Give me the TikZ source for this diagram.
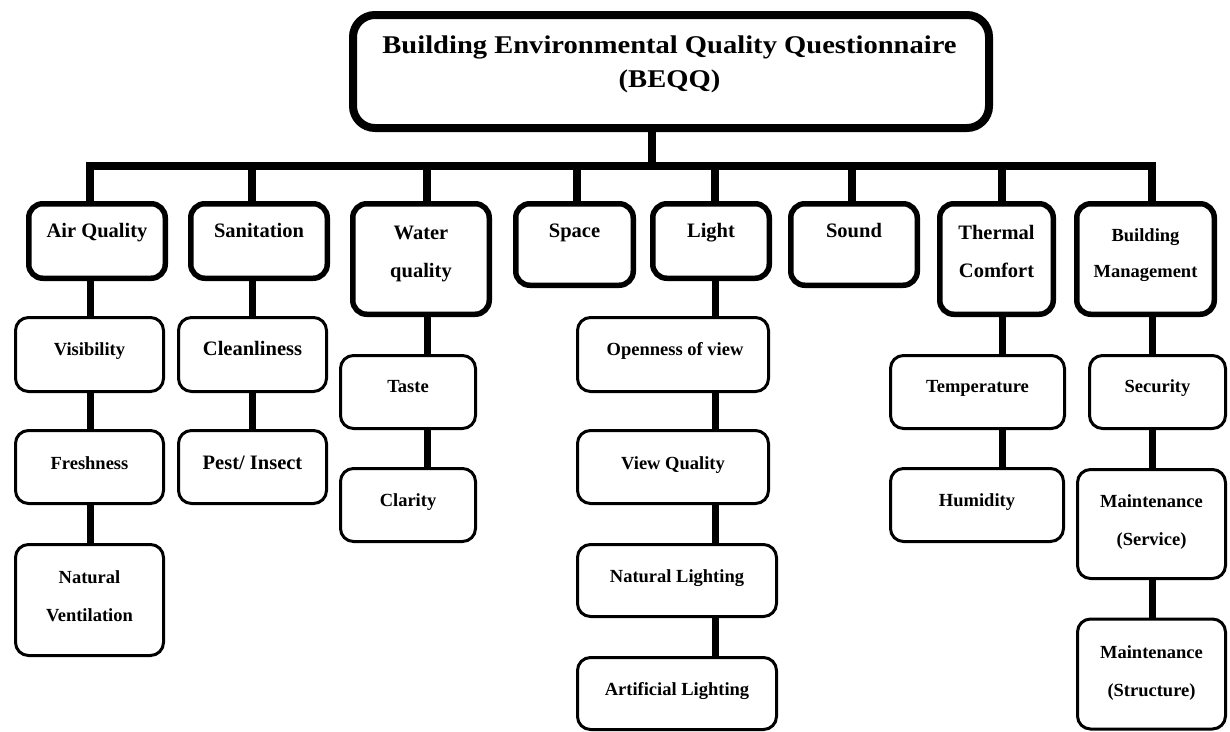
\documentclass[tikz,border=0pt]{standalone}
\usepackage{fontspec}
\setmainfont{Liberation Serif}
\newfontfamily\titlefont{Liberation Serif}[FakeStretch=1.12]

\tikzset{
  mainbox/.style={draw, line width=8pt, rounded corners=22pt, fill=white, inner sep=0pt},
  topbox/.style={draw, line width=5.5pt, rounded corners=14pt, fill=white, inner sep=0pt},
  subbox/.style={draw, line width=3pt, rounded corners=13pt, fill=white, inner sep=0pt},
  link/.style={line width=8pt, line join=miter},
  sublink/.style={line width=7pt},
  toptext/.style={font=\fontsize{20.5}{37.5}\selectfont\bfseries, anchor=base, align=center, inner sep=0pt},
  subtext/.style={font=\fontsize{18.5}{37.5}\selectfont\bfseries, anchor=base, align=center, inner sep=0pt},
}

\begin{document}
\begin{tikzpicture}[x=1pt, y=-1pt]
\useasboundingbox (0,0) rectangle (1230,731);

\node[mainbox, minimum width=636pt, minimum height=113pt] (title) at (671,71.5) {};
\node[font=\titlefont\fontsize{25.5}{34}\selectfont\bfseries, anchor=base, align=center, inner sep=0pt] (title-t) at (669.5,87) {Building Environmental Quality Questionnaire\\(BEQQ)};

\node[topbox, minimum width=136.5pt, minimum height=74.5pt] (aq) at (97,241) {};
\node[topbox, minimum width=136.5pt, minimum height=74.5pt] (san) at (259,241) {};
\node[topbox, minimum width=136.5pt, minimum height=110.5pt] (wq) at (421,259) {};
\node[topbox, minimum width=117.5pt, minimum height=81.5pt] (sp) at (574.5,244.5) {};
\node[topbox, minimum width=116.5pt, minimum height=74.5pt] (li) at (711,241) {};
\node[topbox, minimum width=126.5pt, minimum height=81.5pt] (so) at (854,244.5) {};
\node[topbox, minimum width=113.5pt, minimum height=110.5pt] (th) at (996.5,259) {};
\node[topbox, minimum width=137.5pt, minimum height=110.5pt] (bm) at (1145.5,259) {};

\node[toptext] (aq-t) at (97,237) {Air Quality};
\node[toptext] (san-t) at (259,237) {Sanitation};
\node[toptext] (wq-t) at (421,277) {Water\\quality};
\node[toptext] (sp-t) at (574.5,237) {Space};
\node[toptext] (li-t) at (711,237) {Light};
\node[toptext] (so-t) at (854,237) {Sound};
\node[toptext] (th-t) at (996.5,277) {Thermal\\Comfort};
\node[subtext, font=\fontsize{18.5}{36}\selectfont\bfseries] (bm-t) at (1145.5,277) {Building\\Management};

\node[subbox, minimum width=148pt, minimum height=74pt] (vis) at (89.5,354.5) {};
\node[subbox, minimum width=148pt, minimum height=73pt] (fresh) at (89.5,467) {};
\node[subbox, minimum width=148pt, minimum height=111pt] (natv) at (89.5,600) {};
\node[subbox, minimum width=148pt, minimum height=74pt] (clean) at (252.5,354.5) {};
\node[subbox, minimum width=148pt, minimum height=73pt] (pest) at (252.5,467) {};
\node[subbox, minimum width=135pt, minimum height=73pt] (taste) at (408,392) {};
\node[subbox, minimum width=135pt, minimum height=73pt] (clar) at (408,505) {};
\node[subbox, minimum width=191pt, minimum height=74pt] (open) at (673,354.5) {};
\node[subbox, minimum width=191pt, minimum height=73pt] (viewq) at (673,467) {};
\node[subbox, minimum width=199pt, minimum height=72pt] (natl) at (677,580.5) {};
\node[subbox, minimum width=199pt, minimum height=72pt] (artl) at (677,693.5) {};
\node[subbox, minimum width=174pt, minimum height=73pt] (temp) at (977.5,392) {};
\node[subbox, minimum width=173pt, minimum height=73pt] (humid) at (977,505) {};
\node[subbox, minimum width=136pt, minimum height=73pt] (sec) at (1157.5,392) {};
\node[subbox, minimum width=148pt, minimum height=109pt] (mserv) at (1151.5,524) {};
\node[subbox, minimum width=148pt, minimum height=110pt] (mstruc) at (1151.5,674) {};

\node[subtext] (vis-t) at (89.5,355) {Visibility};
\node[subtext] (fresh-t) at (89.5,469) {Freshness};
\node[subtext] (natv-t) at (89.5,621) {Natural\\Ventilation};
\node[toptext] (clean-t) at (252.5,355) {Cleanliness};
\node[toptext] (pest-t) at (252.5,469) {Pest/ Insect};
\node[subtext] (taste-t) at (408,392) {Taste};
\node[subtext] (clar-t) at (408,506) {Clarity};
\node[subtext] (open-t) at (675,355) {Openness of view};
\node[subtext] (viewq-t) at (673,469) {View Quality};
\node[subtext] (natl-t) at (677,582) {Natural Lighting};
\node[subtext] (artl-t) at (677,695) {Artificial Lighting};
\node[subtext] (temp-t) at (977.5,392) {Temperature};
\node[subtext] (humid-t) at (977,506) {Humidity};
\node[subtext] (sec-t) at (1157.5,392) {Security};
\node[subtext] (mserv-t) at (1151.5,545) {Maintenance\\(Service)};
\node[subtext] (mstruc-t) at (1151.5,696) {Maintenance\\(Structure)};

\coordinate (hub) at (652,166);
\coordinate (c-aq) at (90,166);
\coordinate (c-san) at (252,166);
\coordinate (c-wq) at (427,166);
\coordinate (c-sp) at (577,166);
\coordinate (c-li) at (715,166);
\coordinate (c-so) at (852,166);
\coordinate (c-th) at (1002,166);
\coordinate (c-bm) at (1152,166);

\draw[link] (title.south -| hub) -- (hub);
\draw[link] (aq.north -| c-aq) |- (c-bm) -- (bm.north -| c-bm);
\draw[link] (c-san) -- (san.north -| c-san);
\draw[link] (c-wq) -- (wq.north -| c-wq);
\draw[link] (c-sp) -- (sp.north -| c-sp);
\draw[link] (c-li) -- (li.north -| c-li);
\draw[link] (c-so) -- (so.north -| c-so);
\draw[link] (c-th) -- (th.north -| c-th);

\draw[sublink] (aq.south -| c-aq) -- (vis.north -| c-aq);
\draw[sublink] (vis.south -| c-aq) -- (fresh.north -| c-aq);
\draw[sublink] (fresh.south -| c-aq) -- (natv.north -| c-aq);
\draw[sublink] (san.south -| c-san) -- (clean.north -| c-san);
\draw[sublink] (clean.south -| c-san) -- (pest.north -| c-san);
\draw[sublink] (wq.south -| c-wq) -- (taste.north -| c-wq);
\draw[sublink] (taste.south -| c-wq) -- (clar.north -| c-wq);
\draw[sublink] (li.south -| c-li) -- (open.north -| c-li);
\draw[sublink] (open.south -| c-li) -- (viewq.north -| c-li);
\draw[sublink] (viewq.south -| c-li) -- (natl.north -| c-li);
\draw[sublink] (natl.south -| c-li) -- (artl.north -| c-li);
\draw[sublink] (th.south -| c-th) -- (temp.north -| c-th);
\draw[sublink] (temp.south -| c-th) -- (humid.north -| c-th);
\draw[sublink] (bm.south -| c-bm) -- (sec.north -| c-bm);
\draw[sublink] (sec.south -| c-bm) -- (mserv.north -| c-bm);
\draw[sublink] (mserv.south -| c-bm) -- (mstruc.north -| c-bm);

\end{tikzpicture}
\end{document}
